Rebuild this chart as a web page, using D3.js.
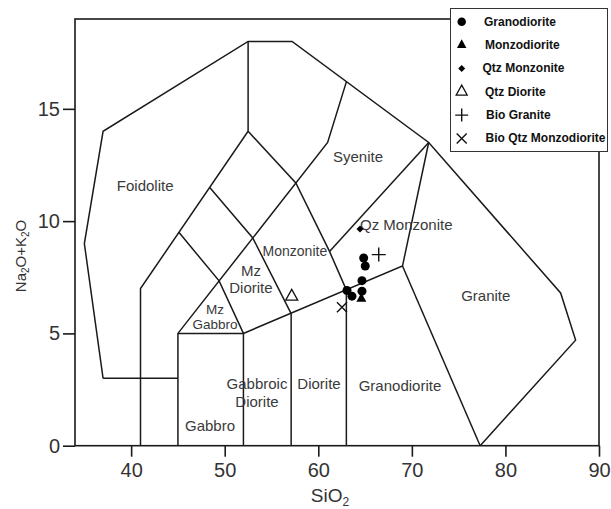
<!DOCTYPE html>
<html><head><meta charset="utf-8">
<script src="https://cdn.jsdelivr.net/npm/d3@7"></script>
<style>body{margin:0;background:#fff;} svg{display:block;font-family:"Liberation Sans",Arial,sans-serif;}</style>
</head><body>
<svg id="c" width="611" height="509"></svg>
<script>
// ---- data ----
const xTicks = [40, 50, 60, 70, 80, 90];
const yTicks = [0, 5, 10, 15];
const categories = ["Granodiorite", "Monzodiorite", "Qtz Monzonite", "Qtz Diorite", "Bio Granite", "Bio Qtz Monzodiorite"];
const granodioriteSiO2 = [64.85, 65.02, 64.67, 63.07, 63.60, 64.67];
const granodioriteAlk  = [8.36, 8.00, 7.35, 6.91, 6.66, 6.88];
const monzodioriteSiO2 = [64.60];
const monzodioriteAlk  = [6.54];
const qtzMonzoniteSiO2 = [64.46];
const qtzMonzoniteAlk  = [9.65];
const qtzDioriteSiO2 = [57.16];
const qtzDioriteAlk  = [6.64];
const bioGraniteSiO2 = [66.46];
const bioGraniteAlk  = [8.51];
const bioQtzMonzodioriteSiO2 = [62.53];
const bioQtzMonzodioriteAlk  = [6.17];
// TAS field boundaries (SiO2, Na2O+K2O)
const boundaries = [
  [[37,3],[35,9],[37,14],[52.5,18],[57.2,18],[71.8,13.5],[85.9,6.8],[87.5,4.7],[77.3,0]],
  [[37,3],[45,3]],
  [[41,0],[41,7],[52.5,14],[52.5,18]],
  [[45,0],[45,5],[61,13.5],[63,16.2]],
  [[45,5],[52,5],[69,8],[71.8,13.5]],
  [[52,0],[52,5]],
  [[57.1,0],[57.1,5.88]],
  [[63,0],[63,6.94]],
  [[69,8],[77.3,0]],
  [[45.1,9.5],[49.4,7.34],[52,5]],
  [[48.4,11.5],[53,9.25],[57.1,5.88]],
  [[52.5,14],[57.6,11.7],[61.2,8.65],[63,6.94]],
  [[61.2,8.65],[71.8,13.5]]
];
const fieldNames = ["Foidolite","Syenite","Qz Monzonite","Monzonite","Mz","Diorite","Mz","Gabbro","Gabbroic","Diorite","Diorite","Granodiorite","Gabbro","Granite"];
const fieldSiO2  = [41.5, 64.25, 69.4, 57.5, 52.8, 52.8, 48.96, 48.96, 53.45, 53.45, 60.08, 68.73, 48.43, 77.9];
const fieldAlk   = [11.6, 12.87, 9.83, 8.67, 7.8, 7.03, 6.05, 5.38, 2.75, 1.99, 2.75, 2.7, 0.92, 6.7];
const fieldSize  = [15, 15, 15, 14, 15, 15, 13.5, 13.5, 15, 15, 15, 15, 15, 15];

// ---- chart ----
const svg = d3.select("#c");
const x = d3.scaleLinear().domain([34, 90]).range([75, 599]);
const y = d3.scaleLinear().domain([0, 19]).range([445.7, 19]);

// boundaries
const line = d3.line().x(d => x(d[0])).y(d => y(d[1]));
svg.append("g").selectAll("path").data(boundaries).join("path")
  .attr("d", line).attr("fill", "none").attr("stroke", "#1a1a1a").attr("stroke-width", 1.5)
  .attr("stroke-linejoin", "miter");

// frame
svg.append("rect").attr("x", x(34)).attr("y", y(19)).attr("width", x(90) - x(34)).attr("height", y(0) - y(19))
  .attr("fill", "none").attr("stroke", "#1a1a1a").attr("stroke-width", 1.6);

// axes
const gx = svg.append("g").attr("transform", `translate(0,${y(0)})`)
  .call(d3.axisBottom(x).tickValues(xTicks).tickSize(11).tickSizeOuter(0).tickPadding(6));
const gy = svg.append("g").attr("transform", `translate(${x(34)},0)`)
  .call(d3.axisLeft(y).tickValues(yTicks).tickSize(12).tickSizeOuter(0).tickPadding(3));
[gx, gy].forEach(g => {
  g.select(".domain").remove();
  g.selectAll(".tick line").attr("stroke", "#1a1a1a").attr("stroke-width", 1.6);
  g.selectAll(".tick text").attr("font-size", 20).attr("fill", "#333").attr("font-family", "Liberation Sans, Arial, sans-serif");
});

// axis titles
const xt = svg.append("text").attr("x", 330).attr("y", 502).attr("text-anchor", "middle")
  .attr("font-size", 19).attr("fill", "#333");
xt.append("tspan").text("SiO");
xt.append("tspan").attr("font-size", 12).attr("dy", 4).text("2");
const yt = svg.append("text").attr("transform", "translate(26,256) rotate(-90)").attr("text-anchor", "middle")
  .attr("font-size", 15).attr("fill", "#333");
yt.append("tspan").text("Na");
yt.append("tspan").attr("font-size", 10).attr("dy", 3).text("2");
yt.append("tspan").attr("dy", -3).text("O+K");
yt.append("tspan").attr("font-size", 10).attr("dy", 3).text("2");
yt.append("tspan").attr("dy", -3).text("O");

// field labels
svg.append("g").selectAll("text").data(fieldNames).join("text")
  .attr("x", (d, i) => x(fieldSiO2[i])).attr("y", (d, i) => y(fieldAlk[i]))
  .attr("text-anchor", "middle").attr("dominant-baseline", "central")
  .attr("font-size", (d, i) => fieldSize[i]).attr("fill", "#3a3a3a").text(d => d);

// symbols
function sym(type, s) {
  if (type === 0) return d3.symbol(d3.symbolCircle, Math.PI * s * s / 4)();
  if (type === 1 || type === 3) { const h = s * 0.9; return `M0,${-h*2/3}L${s/2},${h/3}L${-s/2},${h/3}Z`; }
  if (type === 2) return `M0,${-s/2}L${s/2},0L0,${s/2}L${-s/2},0Z`;
  if (type === 4) return `M${-s/2},0H${s/2}M0,${-s/2}V${s/2}`;
  return `M${-s/2},${-s/2}L${s/2},${s/2}M${-s/2},${s/2}L${s/2},${-s/2}`;
}
function styleSym(sel, type) {
  if (type <= 2) sel.attr("fill", "#000").attr("stroke", "none");
  else if (type === 3) sel.attr("fill", "#fff").attr("stroke", "#111").attr("stroke-width", 1.3);
  else sel.attr("fill", "none").attr("stroke", "#111").attr("stroke-width", 1.4);
}
const series = [
  [granodioriteSiO2, granodioriteAlk, 9],
  [monzodioriteSiO2, monzodioriteAlk, 10],
  [qtzMonzoniteSiO2, qtzMonzoniteAlk, 7],
  [qtzDioriteSiO2, qtzDioriteAlk, 12],
  [bioGraniteSiO2, bioGraniteAlk, 14],
  [bioQtzMonzodioriteSiO2, bioQtzMonzodioriteAlk, 10]
];
series.forEach((s, t) => {
  const pts = s[0].map((v, i) => [v, s[1][i]]);
  svg.append("g").selectAll("path").data(pts).join("path")
    .attr("transform", d => `translate(${x(d[0])},${y(d[1])})`)
    .attr("d", sym(t, s[2])).call(styleSym, t);
});

// legend
const lg = svg.append("g");
lg.append("rect").attr("x", 450.5).attr("y", 8.5).attr("width", 157).attr("height", 143)
  .attr("fill", "#fff").attr("stroke", "#333").attr("stroke-width", 1);
const legendSizes = [8.5, 9.5, 7, 11, 13, 10];
const legendTextX = [484, 485, 482.5, 485, 486, 485.5];
categories.forEach((c, i) => {
  const yy = 21.7 + i * 23.35;
  lg.append("path").attr("transform", `translate(461.7,${yy})`).attr("d", sym(i, legendSizes[i])).call(styleSym, i);
  lg.append("text").attr("x", legendTextX[i]).attr("y", yy).attr("dominant-baseline", "central")
    .attr("font-size", 12).attr("font-weight", "bold").attr("fill", "#111").text(c);
});
</script>
</body></html>
